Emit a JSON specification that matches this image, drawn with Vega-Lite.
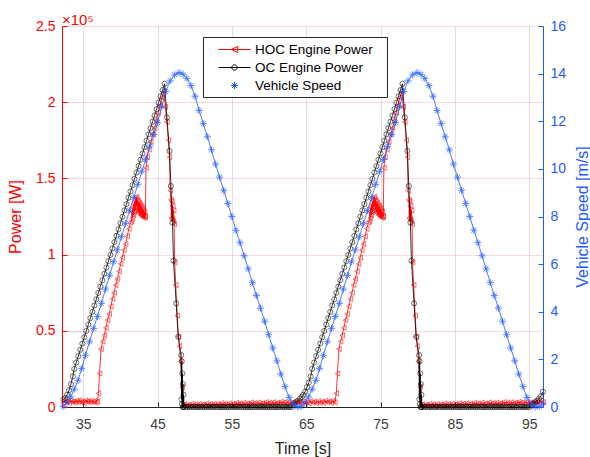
{
"$schema": "https://vega.github.io/schema/vega-lite/v6.json",
"width": 481, "height": 381,
"autosize": {"type": "none"},
"padding": {"left": 62, "top": 26, "right": 47, "bottom": 50},
"config": {"view": {"stroke": null}, "font": "Liberation Sans"},
"title": {"text": "×10⁵", "anchor": "start", "frame": "group", "fontSize": 15, "fontWeight": "normal", "color": "#ff0000", "font": "Liberation Sans", "offset": -9},
"datasets": {
"hoc": [
{"t":32.3,"p":0.03},{"t":32.5,"p":0.041},{"t":32.7,"p":0.033},{"t":32.9,"p":0.038},{"t":33.1,"p":0.028},{"t":33.3,"p":0.043},{"t":33.5,"p":0.034},{"t":33.7,"p":0.037},{"t":33.9,"p":0.029},{"t":34.1,"p":0.04},{"t":34.3,"p":0.032},{"t":34.5,"p":0.044},{"t":34.7,"p":0.031},{"t":34.9,"p":0.036},{"t":35.1,"p":0.027},{"t":35.3,"p":0.042},{"t":35.5,"p":0.035},{"t":35.7,"p":0.039},{"t":35.9,"p":0.03},{"t":36.1,"p":0.041},{"t":36.3,"p":0.033},{"t":36.5,"p":0.038},{"t":36.7,"p":0.029},{"t":36.9,"p":0.036},
{"t":37.05,"p":0.09},{"t":37.2,"p":0.22},{"t":37.4,"p":0.38},{"t":37.62,"p":0.43},{"t":37.84,"p":0.47},{"t":38.06,"p":0.52},{"t":38.28,"p":0.57},{"t":38.5,"p":0.61},{"t":38.72,"p":0.66},{"t":38.94,"p":0.71},{"t":39.16,"p":0.75},{"t":39.38,"p":0.8},{"t":39.6,"p":0.84},{"t":39.82,"p":0.89},{"t":40.04,"p":0.94},{"t":40.26,"p":0.98},{"t":40.48,"p":1.03},{"t":40.7,"p":1.07},{"t":40.92,"p":1.12},{"t":41.14,"p":1.17},{"t":41.36,"p":1.21},
{"t":41.5,"p":1.22},{"t":41.56,"p":1.28},{"t":41.62,"p":1.24},{"t":41.68,"p":1.31},{"t":41.74,"p":1.26},{"t":41.8,"p":1.33},{"t":41.86,"p":1.28},{"t":41.92,"p":1.35},{"t":41.98,"p":1.29},{"t":42.04,"p":1.37},{"t":42.1,"p":1.31},{"t":42.16,"p":1.38},{"t":42.22,"p":1.32},{"t":42.28,"p":1.36},{"t":42.34,"p":1.29},{"t":42.4,"p":1.35},{"t":42.46,"p":1.28},{"t":42.52,"p":1.34},{"t":42.58,"p":1.27},{"t":42.64,"p":1.33},{"t":42.7,"p":1.26},{"t":42.76,"p":1.32},{"t":42.82,"p":1.26},{"t":42.88,"p":1.31},{"t":42.94,"p":1.25},{"t":43.0,"p":1.3},{"t":43.06,"p":1.25},{"t":43.12,"p":1.29},{"t":43.18,"p":1.24},{"t":43.24,"p":1.28},{"t":43.3,"p":1.25},{"t":43.36,"p":1.25},
{"t":43.45,"p":1.57},{"t":43.6,"p":1.64},{"t":43.85,"p":1.69},{"t":44.1,"p":1.74},{"t":44.35,"p":1.79},{"t":44.6,"p":1.83},{"t":44.85,"p":1.88},{"t":45.1,"p":1.93},{"t":45.35,"p":1.98},{"t":45.6,"p":2.03},{"t":45.85,"p":2.07},
{"t":46.05,"p":1.97},{"t":46.26,"p":1.87},{"t":46.45,"p":1.75},{"t":46.61,"p":1.64},{"t":46.7,"p":1.42},{"t":46.8,"p":1.36},{"t":46.86,"p":1.24},{"t":46.92,"p":1.35},{"t":46.98,"p":1.23},{"t":47.04,"p":1.32},{"t":47.1,"p":1.22},{"t":47.17,"p":1.29},{"t":47.24,"p":1.2},{"t":47.3,"p":0.95},{"t":47.45,"p":0.8},{"t":47.65,"p":0.6},{"t":47.82,"p":0.46},{"t":47.95,"p":0.4},{"t":48.1,"p":0.3},{"t":48.3,"p":0.13},{"t":48.45,"p":0.01},
{"t":48.6,"p":0.018},{"t":48.85,"p":0.008},{"t":49.1,"p":0.015},{"t":49.35,"p":0.007},{"t":49.6,"p":0.021},{"t":49.85,"p":0.011},{"t":50.1,"p":0.018},{"t":50.35,"p":0.007},{"t":50.6,"p":0.02},{"t":50.85,"p":0.01},{"t":51.1,"p":0.017},{"t":51.35,"p":0.009},{"t":51.6,"p":0.023},{"t":51.85,"p":0.013},{"t":52.1,"p":0.02},{"t":52.35,"p":0.009},{"t":52.6,"p":0.022},{"t":52.85,"p":0.012},{"t":53.1,"p":0.019},{"t":53.35,"p":0.011},{"t":53.6,"p":0.025},{"t":53.85,"p":0.015},{"t":54.1,"p":0.022},{"t":54.35,"p":0.011},{"t":54.6,"p":0.024},{"t":54.85,"p":0.015},{"t":55.1,"p":0.021},{"t":55.35,"p":0.013},{"t":55.6,"p":0.027},{"t":55.85,"p":0.018},{"t":56.1,"p":0.024},{"t":56.35,"p":0.013},{"t":56.6,"p":0.027},{"t":56.85,"p":0.017},{"t":57.1,"p":0.023},{"t":57.35,"p":0.015},{"t":57.6,"p":0.03},{"t":57.85,"p":0.02},{"t":58.1,"p":0.026},{"t":58.35,"p":0.016},{"t":58.6,"p":0.029},{"t":58.85,"p":0.019},{"t":59.1,"p":0.025},{"t":59.35,"p":0.018},{"t":59.6,"p":0.032},{"t":59.85,"p":0.022},{"t":60.1,"p":0.029},{"t":60.35,"p":0.018},{"t":60.6,"p":0.031},{"t":60.85,"p":0.021},{"t":61.1,"p":0.028},{"t":61.35,"p":0.02},{"t":61.6,"p":0.034},{"t":61.85,"p":0.025},{"t":62.1,"p":0.031},{"t":62.35,"p":0.02},{"t":62.6,"p":0.033},{"t":62.85,"p":0.024},{"t":63.1,"p":0.03},{"t":63.35,"p":0.022},{"t":63.6,"p":0.037},{"t":63.85,"p":0.027},{"t":64.1,"p":0.033},{"t":64.35,"p":0.022},{"t":64.6,"p":0.036},{"t":64.85,"p":0.026},{"t":65.1,"p":0.032},{"t":65.35,"p":0.025},{"t":65.6,"p":0.039},{"t":65.85,"p":0.029},{"t":66.1,"p":0.035},{"t":66.35,"p":0.025},{"t":66.6,"p":0.038},{"t":66.85,"p":0.028},{"t":67.1,"p":0.035},{"t":67.35,"p":0.027},{"t":67.6,"p":0.041},{"t":67.85,"p":0.031},{"t":68.1,"p":0.038},{"t":68.35,"p":0.027},{"t":68.6,"p":0.04},{"t":68.85,"p":0.03},
{"t":69.05,"p":0.09},{"t":69.2,"p":0.22},{"t":69.4,"p":0.38},{"t":69.62,"p":0.43},{"t":69.84,"p":0.47},{"t":70.06,"p":0.52},{"t":70.28,"p":0.57},{"t":70.5,"p":0.61},{"t":70.72,"p":0.66},{"t":70.94,"p":0.71},{"t":71.16,"p":0.75},{"t":71.38,"p":0.8},{"t":71.6,"p":0.84},{"t":71.82,"p":0.89},{"t":72.04,"p":0.94},{"t":72.26,"p":0.98},{"t":72.48,"p":1.03},{"t":72.7,"p":1.07},{"t":72.92,"p":1.12},{"t":73.14,"p":1.17},{"t":73.36,"p":1.21},
{"t":73.5,"p":1.22},{"t":73.56,"p":1.28},{"t":73.62,"p":1.24},{"t":73.68,"p":1.31},{"t":73.74,"p":1.26},{"t":73.8,"p":1.33},{"t":73.86,"p":1.28},{"t":73.92,"p":1.35},{"t":73.98,"p":1.29},{"t":74.04,"p":1.37},{"t":74.1,"p":1.31},{"t":74.16,"p":1.38},{"t":74.22,"p":1.32},{"t":74.28,"p":1.36},{"t":74.34,"p":1.29},{"t":74.4,"p":1.35},{"t":74.46,"p":1.28},{"t":74.52,"p":1.34},{"t":74.58,"p":1.27},{"t":74.64,"p":1.33},{"t":74.7,"p":1.26},{"t":74.76,"p":1.32},{"t":74.82,"p":1.26},{"t":74.88,"p":1.31},{"t":74.94,"p":1.25},{"t":75.0,"p":1.3},{"t":75.06,"p":1.25},{"t":75.12,"p":1.29},{"t":75.18,"p":1.24},{"t":75.24,"p":1.28},{"t":75.3,"p":1.25},{"t":75.36,"p":1.25},
{"t":75.45,"p":1.57},{"t":75.6,"p":1.64},{"t":75.85,"p":1.69},{"t":76.1,"p":1.74},{"t":76.35,"p":1.79},{"t":76.6,"p":1.83},{"t":76.85,"p":1.88},{"t":77.1,"p":1.93},{"t":77.35,"p":1.98},{"t":77.6,"p":2.03},{"t":77.85,"p":2.07},
{"t":78.05,"p":1.97},{"t":78.26,"p":1.87},{"t":78.45,"p":1.75},{"t":78.61,"p":1.64},{"t":78.7,"p":1.42},{"t":78.8,"p":1.36},{"t":78.86,"p":1.24},{"t":78.92,"p":1.35},{"t":78.98,"p":1.23},{"t":79.04,"p":1.32},{"t":79.1,"p":1.22},{"t":79.17,"p":1.29},{"t":79.24,"p":1.2},{"t":79.3,"p":0.95},{"t":79.45,"p":0.8},{"t":79.65,"p":0.6},{"t":79.82,"p":0.46},{"t":79.95,"p":0.4},{"t":80.1,"p":0.3},{"t":80.3,"p":0.13},{"t":80.45,"p":0.01},
{"t":80.6,"p":0.018},{"t":80.85,"p":0.008},{"t":81.1,"p":0.015},{"t":81.35,"p":0.007},{"t":81.6,"p":0.021},{"t":81.85,"p":0.011},{"t":82.1,"p":0.018},{"t":82.35,"p":0.007},{"t":82.6,"p":0.02},{"t":82.85,"p":0.01},{"t":83.1,"p":0.017},{"t":83.35,"p":0.009},{"t":83.6,"p":0.023},{"t":83.85,"p":0.013},{"t":84.1,"p":0.02},{"t":84.35,"p":0.009},{"t":84.6,"p":0.022},{"t":84.85,"p":0.012},{"t":85.1,"p":0.019},{"t":85.35,"p":0.011},{"t":85.6,"p":0.025},{"t":85.85,"p":0.015},{"t":86.1,"p":0.022},{"t":86.35,"p":0.011},{"t":86.6,"p":0.024},{"t":86.85,"p":0.015},{"t":87.1,"p":0.021},{"t":87.35,"p":0.013},{"t":87.6,"p":0.027},{"t":87.85,"p":0.018},{"t":88.1,"p":0.024},{"t":88.35,"p":0.013},{"t":88.6,"p":0.027},{"t":88.85,"p":0.017},{"t":89.1,"p":0.023},{"t":89.35,"p":0.015},{"t":89.6,"p":0.03},{"t":89.85,"p":0.02},{"t":90.1,"p":0.026},{"t":90.35,"p":0.016},{"t":90.6,"p":0.029},{"t":90.85,"p":0.019},{"t":91.1,"p":0.025},{"t":91.35,"p":0.018},{"t":91.6,"p":0.032},{"t":91.85,"p":0.022},{"t":92.1,"p":0.029},{"t":92.35,"p":0.018},{"t":92.6,"p":0.031},{"t":92.85,"p":0.021},{"t":93.1,"p":0.028},{"t":93.35,"p":0.02},{"t":93.6,"p":0.034},{"t":93.85,"p":0.025},{"t":94.1,"p":0.031},{"t":94.35,"p":0.02},{"t":94.6,"p":0.033},{"t":94.85,"p":0.024},{"t":95.1,"p":0.03},{"t":95.35,"p":0.022},{"t":95.6,"p":0.037},{"t":95.85,"p":0.027},{"t":96.1,"p":0.033},{"t":96.35,"p":0.024},{"t":96.6,"p":0.04},{"t":96.85,"p":0.032}
],
"oc": [
{"t":32.35,"p":0.05},{"t":32.6,"p":0.06},{"t":32.85,"p":0.08},{"t":33.1,"p":0.11},{"t":33.35,"p":0.15},{"t":33.6,"p":0.2},
{"t":33.8,"p":0.25},{"t":34.07,"p":0.292},{"t":34.34,"p":0.333},{"t":34.61,"p":0.375},{"t":34.88,"p":0.416},{"t":35.15,"p":0.458},{"t":35.42,"p":0.499},{"t":35.69,"p":0.541},{"t":35.96,"p":0.583},{"t":36.23,"p":0.624},{"t":36.5,"p":0.666},{"t":36.77,"p":0.707},{"t":37.04,"p":0.749},{"t":37.31,"p":0.79},{"t":37.58,"p":0.832},{"t":37.85,"p":0.874},{"t":38.12,"p":0.915},{"t":38.39,"p":0.957},{"t":38.66,"p":0.998},{"t":38.93,"p":1.04},{"t":39.2,"p":1.082},{"t":39.47,"p":1.123},{"t":39.74,"p":1.165},{"t":40.01,"p":1.206},{"t":40.28,"p":1.248},{"t":40.55,"p":1.29},{"t":40.82,"p":1.331},{"t":41.09,"p":1.373},{"t":41.36,"p":1.414},{"t":41.63,"p":1.456},{"t":41.9,"p":1.497},{"t":42.17,"p":1.539},{"t":42.44,"p":1.581},{"t":42.71,"p":1.622},{"t":42.98,"p":1.664},{"t":43.25,"p":1.705},{"t":43.52,"p":1.747},{"t":43.79,"p":1.789},{"t":44.06,"p":1.83},{"t":44.33,"p":1.872},{"t":44.6,"p":1.913},{"t":44.87,"p":1.955},{"t":45.14,"p":1.997},{"t":45.41,"p":2.038},{"t":45.68,"p":2.08},{"t":45.95,"p":2.121},
{"t":46.26,"p":1.9},{"t":46.61,"p":1.68},{"t":46.8,"p":1.45},{"t":47.01,"p":1.21},{"t":47.15,"p":0.96},{"t":47.51,"p":0.68},{"t":47.78,"p":0.46},{"t":48.18,"p":0.34},
{"t":48.22,"p":0.05},{"t":48.26,"p":0.3},{"t":48.3,"p":0.02},{"t":48.34,"p":0.22},{"t":48.38,"p":0},{"t":48.42,"p":0.15},{"t":48.46,"p":0},{"t":48.5,"p":0.08},{"t":48.55,"p":0},
{"t":48.8,"p":0},{"t":49.05,"p":0},{"t":49.3,"p":0},{"t":49.55,"p":0},{"t":49.8,"p":0},{"t":50.05,"p":0},{"t":50.3,"p":0},{"t":50.55,"p":0},{"t":50.8,"p":0},{"t":51.05,"p":0},{"t":51.3,"p":0},{"t":51.55,"p":0},{"t":51.8,"p":0},{"t":52.05,"p":0},{"t":52.3,"p":0},{"t":52.55,"p":0},{"t":52.8,"p":0},{"t":53.05,"p":0},{"t":53.3,"p":0},{"t":53.55,"p":0},{"t":53.8,"p":0},{"t":54.05,"p":0},{"t":54.3,"p":0},{"t":54.55,"p":0},{"t":54.8,"p":0},{"t":55.05,"p":0},{"t":55.3,"p":0},{"t":55.55,"p":0},{"t":55.8,"p":0},{"t":56.05,"p":0},{"t":56.3,"p":0},{"t":56.55,"p":0},{"t":56.8,"p":0},{"t":57.05,"p":0},{"t":57.3,"p":0},{"t":57.55,"p":0},{"t":57.8,"p":0},{"t":58.05,"p":0},{"t":58.3,"p":0},{"t":58.55,"p":0},{"t":58.8,"p":0},{"t":59.05,"p":0},{"t":59.3,"p":0},{"t":59.55,"p":0},{"t":59.8,"p":0},{"t":60.05,"p":0},{"t":60.3,"p":0},{"t":60.55,"p":0},{"t":60.8,"p":0},{"t":61.05,"p":0},{"t":61.3,"p":0},{"t":61.55,"p":0},{"t":61.8,"p":0},{"t":62.05,"p":0},{"t":62.3,"p":0},{"t":62.55,"p":0},{"t":62.8,"p":0},{"t":63.05,"p":0},
{"t":63.3,"p":0.015},{"t":63.55,"p":0.03},{"t":63.85,"p":0.04},{"t":64.15,"p":0.055},{"t":64.4,"p":0.065},{"t":64.6,"p":0.08},{"t":64.85,"p":0.1},{"t":65.1,"p":0.13},{"t":65.35,"p":0.16},{"t":65.6,"p":0.2},
{"t":65.8,"p":0.25},{"t":66.07,"p":0.292},{"t":66.34,"p":0.333},{"t":66.61,"p":0.375},{"t":66.88,"p":0.416},{"t":67.15,"p":0.458},{"t":67.42,"p":0.499},{"t":67.69,"p":0.541},{"t":67.96,"p":0.583},{"t":68.23,"p":0.624},{"t":68.5,"p":0.666},{"t":68.77,"p":0.707},{"t":69.04,"p":0.749},{"t":69.31,"p":0.79},{"t":69.58,"p":0.832},{"t":69.85,"p":0.874},{"t":70.12,"p":0.915},{"t":70.39,"p":0.957},{"t":70.66,"p":0.998},{"t":70.93,"p":1.04},{"t":71.2,"p":1.082},{"t":71.47,"p":1.123},{"t":71.74,"p":1.165},{"t":72.01,"p":1.206},{"t":72.28,"p":1.248},{"t":72.55,"p":1.29},{"t":72.82,"p":1.331},{"t":73.09,"p":1.373},{"t":73.36,"p":1.414},{"t":73.63,"p":1.456},{"t":73.9,"p":1.497},{"t":74.17,"p":1.539},{"t":74.44,"p":1.581},{"t":74.71,"p":1.622},{"t":74.98,"p":1.664},{"t":75.25,"p":1.705},{"t":75.52,"p":1.747},{"t":75.79,"p":1.789},{"t":76.06,"p":1.83},{"t":76.33,"p":1.872},{"t":76.6,"p":1.913},{"t":76.87,"p":1.955},{"t":77.14,"p":1.997},{"t":77.41,"p":2.038},{"t":77.68,"p":2.08},{"t":77.95,"p":2.121},
{"t":78.26,"p":1.9},{"t":78.61,"p":1.68},{"t":78.8,"p":1.45},{"t":79.01,"p":1.21},{"t":79.15,"p":0.96},{"t":79.51,"p":0.68},{"t":79.78,"p":0.46},{"t":80.18,"p":0.34},
{"t":80.22,"p":0.05},{"t":80.26,"p":0.3},{"t":80.3,"p":0.02},{"t":80.34,"p":0.22},{"t":80.38,"p":0},{"t":80.42,"p":0.15},{"t":80.46,"p":0},{"t":80.5,"p":0.08},{"t":80.55,"p":0},
{"t":80.8,"p":0},{"t":81.05,"p":0},{"t":81.3,"p":0},{"t":81.55,"p":0},{"t":81.8,"p":0},{"t":82.05,"p":0},{"t":82.3,"p":0},{"t":82.55,"p":0},{"t":82.8,"p":0},{"t":83.05,"p":0},{"t":83.3,"p":0},{"t":83.55,"p":0},{"t":83.8,"p":0},{"t":84.05,"p":0},{"t":84.3,"p":0},{"t":84.55,"p":0},{"t":84.8,"p":0},{"t":85.05,"p":0},{"t":85.3,"p":0},{"t":85.55,"p":0},{"t":85.8,"p":0},{"t":86.05,"p":0},{"t":86.3,"p":0},{"t":86.55,"p":0},{"t":86.8,"p":0},{"t":87.05,"p":0},{"t":87.3,"p":0},{"t":87.55,"p":0},{"t":87.8,"p":0},{"t":88.05,"p":0},{"t":88.3,"p":0},{"t":88.55,"p":0},{"t":88.8,"p":0},{"t":89.05,"p":0},{"t":89.3,"p":0},{"t":89.55,"p":0},{"t":89.8,"p":0},{"t":90.05,"p":0},{"t":90.3,"p":0},{"t":90.55,"p":0},{"t":90.8,"p":0},{"t":91.05,"p":0},{"t":91.3,"p":0},{"t":91.55,"p":0},{"t":91.8,"p":0},{"t":92.05,"p":0},{"t":92.3,"p":0},{"t":92.55,"p":0},{"t":92.8,"p":0},{"t":93.05,"p":0},{"t":93.3,"p":0},{"t":93.55,"p":0},{"t":93.8,"p":0},{"t":94.05,"p":0},{"t":94.3,"p":0},{"t":94.55,"p":0},{"t":94.8,"p":0},{"t":95.05,"p":0},
{"t":95.3,"p":0.01},{"t":95.55,"p":0.02},{"t":95.8,"p":0.03},{"t":96.05,"p":0.04},{"t":96.3,"p":0.055},{"t":96.55,"p":0.07},{"t":96.85,"p":0.1}
],
"spd": [
{"t":32.3,"v":0.02},{"t":32.8,"v":0.18},{"t":33.3,"v":0.42},{"t":33.8,"v":0.75},{"t":34.3,"v":1.12},{"t":34.8,"v":1.62},{"t":35.3,"v":2.17},{"t":35.85,"v":2.74},{"t":36.4,"v":3.3},{"t":36.9,"v":3.8},{"t":37.45,"v":4.35},{"t":38.0,"v":4.95},{"t":38.55,"v":5.53},{"t":39.1,"v":6.1},{"t":39.6,"v":6.6},{"t":40.15,"v":7.15},{"t":40.7,"v":7.7},{"t":41.25,"v":8.25},{"t":41.8,"v":8.8},{"t":42.35,"v":9.35},{"t":42.9,"v":9.9},{"t":43.4,"v":10.4},{"t":43.95,"v":10.95},{"t":44.5,"v":11.45},{"t":45.0,"v":11.95},{"t":45.55,"v":12.6},{"t":46.1,"v":13.25},{"t":46.7,"v":13.7},{"t":47.3,"v":13.95},{"t":47.9,"v":14.04},{"t":48.45,"v":13.97},{"t":48.95,"v":13.8},{"t":49.5,"v":13.5},{"t":50.05,"v":13.05},{"t":50.6,"v":12.45},{"t":51.15,"v":11.9},{"t":51.7,"v":11.35},{"t":52.25,"v":10.8},{"t":52.8,"v":10.2},{"t":53.35,"v":9.65},{"t":53.9,"v":9.1},{"t":54.45,"v":8.55},{"t":55.0,"v":8.0},{"t":55.55,"v":7.42},{"t":56.1,"v":6.9},{"t":56.65,"v":6.35},{"t":57.2,"v":5.8},{"t":57.75,"v":5.22},{"t":58.3,"v":4.68},{"t":58.85,"v":4.15},{"t":59.4,"v":3.6},{"t":59.95,"v":3.04},{"t":60.5,"v":2.48},{"t":61.05,"v":1.94},{"t":61.6,"v":1.38},{"t":62.15,"v":0.86},{"t":62.7,"v":0.4},{"t":63.25,"v":0.12},{"t":63.8,"v":0},
{"t":64.3,"v":0.02},{"t":64.8,"v":0.18},{"t":65.3,"v":0.42},{"t":65.8,"v":0.75},{"t":66.3,"v":1.12},{"t":66.8,"v":1.62},{"t":67.3,"v":2.17},{"t":67.85,"v":2.74},{"t":68.4,"v":3.3},{"t":68.9,"v":3.8},{"t":69.45,"v":4.35},{"t":70.0,"v":4.95},{"t":70.55,"v":5.53},{"t":71.1,"v":6.1},{"t":71.6,"v":6.6},{"t":72.15,"v":7.15},{"t":72.7,"v":7.7},{"t":73.25,"v":8.25},{"t":73.8,"v":8.8},{"t":74.35,"v":9.35},{"t":74.9,"v":9.9},{"t":75.4,"v":10.4},{"t":75.95,"v":10.95},{"t":76.5,"v":11.45},{"t":77.0,"v":11.95},{"t":77.55,"v":12.6},{"t":78.1,"v":13.25},{"t":78.7,"v":13.7},{"t":79.3,"v":13.95},{"t":79.9,"v":14.04},{"t":80.45,"v":13.97},{"t":80.95,"v":13.8},{"t":81.5,"v":13.5},{"t":82.05,"v":13.05},{"t":82.6,"v":12.45},{"t":83.15,"v":11.9},{"t":83.7,"v":11.35},{"t":84.25,"v":10.8},{"t":84.8,"v":10.2},{"t":85.35,"v":9.65},{"t":85.9,"v":9.1},{"t":86.45,"v":8.55},{"t":87.0,"v":8.0},{"t":87.55,"v":7.42},{"t":88.1,"v":6.9},{"t":88.65,"v":6.35},{"t":89.2,"v":5.8},{"t":89.75,"v":5.22},{"t":90.3,"v":4.68},{"t":90.85,"v":4.15},{"t":91.4,"v":3.6},{"t":91.95,"v":3.04},{"t":92.5,"v":2.48},{"t":93.05,"v":1.94},{"t":93.6,"v":1.38},{"t":94.15,"v":0.86},{"t":94.7,"v":0.4},{"t":95.25,"v":0.12},{"t":95.8,"v":0},{"t":96.35,"v":0.02},{"t":96.85,"v":0.15}
]
},
"encoding": {
"x": {"field": "t", "type": "quantitative", "scale": {"domain": [32.15, 96.85], "nice": false, "zero": false},
"axis": {"title": "Time [s]", "values": [35,45,55,65,75,85,95], "labelFontSize": 14, "titleFontSize": 16, "titleFontWeight": "normal", "labelColor": "#404040", "titleColor": "#262626", "domainColor": "#262626", "tickColor": "#262626", "tickSize": -5, "labelPadding": 15, "titlePadding": 9, "grid": true, "gridColor": "#262626", "gridOpacity": 0.15, "labelFlush": false}}
},
"layer": [
{
"encoding": {
"y": {"field": "p", "type": "quantitative", "scale": {"domain": [0, 2.5], "nice": false, "zero": false},
"axis": {"title": "Power [W]", "orient": "left", "values": [0,0.5,1,1.5,2,2.5], "format": "~g", "labelFontSize": 14, "titleFontSize": 16, "titleFontWeight": "normal", "labelColor": "#ff0000", "titleColor": "#ff0000", "domainColor": "#ff0000", "tickColor": "#ff0000", "tickSize": -5, "labelPadding": 12, "titlePadding": 12, "grid": true, "gridColor": "#ff0000", "gridOpacity": 0.15}}
},
"layer": [
{"data": {"name": "hoc"}, "mark": {"type": "line", "strokeWidth": 0.8},
"encoding": {"color": {"datum": "HOC Engine Power", "type": "nominal",
"scale": {"domain": ["HOC Engine Power", "OC Engine Power", "Vehicle Speed"], "range": ["#ff0000", "#000000", "#1f5aff"]},
"legend": {"orient": "none", "legendX": 141, "legendY": 11, "title": ".", "titleOrient": "right", "titleOpacity": 0, "titleFontSize": 2, "titlePadding": 8, "padding": 5, "strokeColor": "#262626", "fillColor": "#ffffff", "labelFontSize": 13.5, "labelColor": "#000000", "labelFont": "Liberation Sans", "symbolSize": 196, "symbolStrokeWidth": 1, "symbolOffset": 19, "labelOffset": 13, "rowPadding": 4,
"encode": {"symbols": {"update": {"shape": {"signal": "datum.value === 'HOC Engine Power' ? 'M-2.29,0H2.29M0.46,-0.43L-0.46,0L0.46,0.43Z' : datum.value === 'OC Engine Power' ? 'M-2.29,0H2.29M0.39,0A0.39,0.39 0 1,1 -0.39,0A0.39,0.39 0 1,1 0.39,0' : 'M-0.5,0H0.5M0,-0.5V0.5M-0.36,-0.36L0.36,0.36M-0.36,0.36L0.36,-0.36'"}, "fill": {"value": "transparent"}, "stroke": {"scale": "color", "field": "value"}, "strokeWidth": {"value": 1}}}}}}}},
{"data": {"name": "hoc"}, "mark": {"type": "point", "shape": "triangle-left", "filled": false, "size": 28, "strokeWidth": 0.8},
"encoding": {"color": {"datum": "HOC Engine Power", "type": "nominal"}}},
{"data": {"name": "oc"}, "mark": {"type": "line", "strokeWidth": 0.8},
"encoding": {"color": {"datum": "OC Engine Power", "type": "nominal"}}},
{"data": {"name": "oc"}, "mark": {"type": "point", "shape": "circle", "filled": false, "size": 26, "strokeWidth": 0.8},
"encoding": {"color": {"datum": "OC Engine Power", "type": "nominal"}}}
]
},
{
"data": {"name": "spd"},
"encoding": {
"y": {"field": "v", "type": "quantitative", "scale": {"domain": [0, 16], "nice": false, "zero": false},
"axis": {"title": "Vehicle Speed [m/s]", "orient": "right", "values": [0,2,4,6,8,10,12,14,16], "labelFontSize": 14, "titleFontSize": 16, "titleFontWeight": "normal", "labelColor": "#1f5aff", "titleColor": "#1f5aff", "domainColor": "#1f5aff", "tickColor": "#1f5aff", "tickSize": -5, "labelPadding": 12, "titlePadding": 25, "titleAngle": 270, "grid": false}},
"color": {"datum": "Vehicle Speed", "type": "nominal"}
},
"layer": [
{"mark": {"type": "line", "strokeWidth": 0.8}},
{"mark": {"type": "point", "shape": "M-1,0H1M0,-1V1M-0.7,-0.7L0.7,0.7M-0.7,0.7L0.7,-0.7", "filled": false, "size": 50, "strokeWidth": 1}}
]
}
],
"resolve": {"scale": {"y": "independent"}}
}
